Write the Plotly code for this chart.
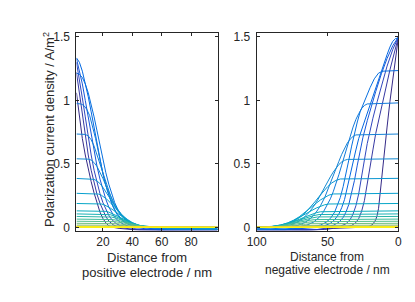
import plotly.graph_objects as go

# ---------------- data ----------------
# Left panel: distance from positive electrode (nm) -> current density (A/m^2)
left_x = [
    [2,3,4,5,6,8,10,12,14,16,18,20,22,24,27,31,36,42,60,98],
    [2,4,6,8,10,12,14,16,18,20,22,24,27,30,34,39,45,60,98],
    [2,4,6,8,10,12,14,16,18,20,22,24,26,29,32,36,41,47,60,98],
    [2,4,6,8,10,12,14,16,18,20,22,24,26,28,31,35,39,44,50,58,98],
    [2,4,6,8,10,12,14,16,18,20,22,24,26,28,30,33,36,40,45,50,56,64,98],
    [2,4,6,8,10,12,14,16,18,20,22,24,26,28,30,33,36,40,45,50,56,64,98],
    [2,5,7,9,11,13,15,17,19,21,23,25,27,29,32,35,39,44,50,56,64,98],
    [2,8,10,12,14,16,18,20,22,24,26,28,30,33,36,40,45,50,56,64,98],
    [2,10,12,14,16,18,20,22,24,26,28,30,33,36,40,45,50,56,64,98],
    [2,12,14,16,18,20,22,24,26,28,30,33,36,40,45,50,58,70,98],
    [2,15,17,19,21,23,25,27,29,31,34,37,40,44,48,54,98],
    [2,17,19,21,23,25,27,29,31,34,37,40,44,48,54,98],
    [2,20,22,24,26,28,30,32,35,38,41,45,50,56,98],
    [2,22,25,28,31,34,37,41,45,50,58,98],
    [2,23,26,29,32,35,38,42,46,51,58,98],
    [2,24,27,30,33,36,40,44,49,55,98],
    [2,25,28,31,34,37,41,45,50,56,98],
    [2,26,30,34,38,42,47,53,98],
    [2,27,32,37,42,48,55,98],
    [2,28,34,40,46,54,98],
    [2,32,42,52,98],
    [2,32,42,52,98],
    [2,32,42,52,98],
    [2,32,42,52,98],
    [2,32,42,52,98],
    [2,32,42,52,98],
    [2,32,42,52,98],
    [2,32,42,52,98],
    [2,32,42,52,98],
    [2,32,42,52,98],
]
left_y = [
    [1.06,0.97,0.87,0.78,0.70,0.57,0.46,0.36,0.27,0.19,0.12,0.07,0.035,0.012,0.0,-0.008,-0.015,-0.019,-0.02,-0.019],
    [1.22,1.05,0.87,0.71,0.57,0.45,0.35,0.26,0.19,0.13,0.085,0.05,0.02,0.004,-0.006,-0.014,-0.019,-0.02,-0.019],
    [1.30,1.17,1.02,0.87,0.71,0.57,0.45,0.35,0.265,0.195,0.14,0.095,0.062,0.03,0.012,0.0,-0.01,-0.017,-0.019,-0.018],
    [1.33,1.24,1.13,1.0,0.87,0.73,0.60,0.48,0.38,0.29,0.22,0.16,0.115,0.08,0.045,0.018,0.005,-0.004,-0.013,-0.018,-0.018],
    [1.335,1.30,1.23,1.14,1.03,0.91,0.78,0.65,0.53,0.42,0.33,0.25,0.185,0.135,0.095,0.055,0.03,0.012,0.002,-0.006,-0.013,-0.017,-0.017],
    [1.215,1.205,1.18,1.13,1.06,0.97,0.87,0.76,0.645,0.535,0.43,0.34,0.26,0.195,0.145,0.09,0.053,0.025,0.008,0.0,-0.008,-0.014,-0.016],
    [0.975,0.972,0.96,0.93,0.88,0.80,0.70,0.59,0.48,0.375,0.29,0.22,0.165,0.12,0.075,0.045,0.02,0.006,0.0,-0.008,-0.013,-0.015],
    [0.735,0.732,0.72,0.69,0.64,0.57,0.495,0.42,0.35,0.28,0.22,0.17,0.13,0.085,0.052,0.025,0.008,0.0,-0.007,-0.012,-0.014],
    [0.54,0.537,0.53,0.51,0.48,0.435,0.385,0.33,0.275,0.225,0.18,0.14,0.095,0.06,0.03,0.011,0.002,-0.005,-0.01,-0.013],
    [0.385,0.383,0.378,0.365,0.345,0.315,0.28,0.245,0.205,0.17,0.135,0.095,0.062,0.033,0.013,0.003,-0.004,-0.009,-0.011],
    [0.268,0.266,0.262,0.253,0.238,0.218,0.195,0.17,0.145,0.12,0.088,0.06,0.038,0.018,0.007,0.0,-0.005],
    [0.188,0.187,0.184,0.177,0.166,0.152,0.136,0.118,0.1,0.075,0.053,0.035,0.018,0.008,0.001,0.0],
    [0.13,0.129,0.126,0.12,0.111,0.1,0.088,0.076,0.058,0.042,0.028,0.015,0.006,0.001,0.0],
    [0.106,0.105,0.1,0.088,0.072,0.055,0.04,0.024,0.012,0.004,0.0,0.0],
    [0.086,0.085,0.081,0.072,0.06,0.047,0.035,0.021,0.011,0.004,0.0,0.0],
    [0.065,0.064,0.061,0.055,0.046,0.036,0.024,0.014,0.006,0.001,0.0],
    [0.048,0.047,0.045,0.04,0.034,0.026,0.017,0.01,0.004,0.0,0.0],
    [0.032,0.031,0.029,0.023,0.016,0.01,0.004,0.0,0.0],
    [0.018,0.018,0.016,0.011,0.006,0.002,0.0,0.0],
    [0.010,0.010,0.008,0.005,0.002,0.0,0.0],
    [0.007,0.007,0.0035,0.0,0.0],
    [0.006,0.006,0.003,0.0,0.0],
    [0.005,0.005,0.0025,0.0,0.0],
    [0.005,0.005,0.0025,0.0,0.0],
    [0.004,0.004,0.002,0.0,0.0],
    [0.004,0.004,0.002,0.0,0.0],
    [0.003,0.003,0.0015,0.0,0.0],
    [0.003,0.003,0.0015,0.0,0.0],
    [0.002,0.002,0.001,0.0,0.0],
    [0.002,0.002,0.001,0.0,0.0],
]

# Right panel: distance from negative electrode (nm) -> current density (A/m^2)
right_x = [
    [0,2,4,6,8,9,10,11,12,13,14,15,16,18,20,23,28,40,46,52,60,100],
    [0,3,6,9,12,14,16,18,20,22,24,26,28,30,33,37,42,48,54,62,100],
    [0,4,8,12,15,18,20,22,24,26,28,30,32,34,37,41,46,51,57,65,100],
    [0,4,8,12,16,19,22,25,27,29,31,33,35,37,39,42,46,51,56,62,70,80,100],
    [0,2,4,6,8,10,12,14,16,18,20,22,24,26,28,30,32,34,36,38,40,42,45,48,52,57,63,70,78,88,100],
    [0,8,11,14,17,20,23,25,27,29,31,33,35,37,39,41,43,45,48,51,55,60,66,72,80,90,100],
    [0,20,22,24,26,28,30,32,34,36,38,40,42,44,46,48,50,53,56,60,65,70,76,82,90,100],
    [0,28,30,32,34,36,38,40,42,44,46,48,50,52,55,58,62,66,71,77,83,90,100],
    [0,34,36,38,40,42,44,46,48,50,52,54,57,60,63,67,71,76,82,88,100],
    [0,38,41,44,47,50,53,56,59,62,65,68,72,76,81,87,94,100],
    [0,43,46,49,52,55,58,61,64,67,70,74,78,83,89,96,100],
    [0,46,49,52,55,58,61,64,67,70,74,78,83,89,96,100],
    [0,49,52,55,58,61,64,67,70,74,78,83,89,96,100],
    [0,52,56,60,64,68,72,76,81,87,94,100],
    [0,53,57,61,65,69,73,77,82,88,95,100],
    [0,55,59,63,67,71,75,80,86,93,100],
    [0,56,60,64,68,72,77,83,90,100],
    [0,57,62,67,72,78,85,93,100],
    [0,58,65,72,80,88,100],
    [0,60,70,80,90,100],
    [0,60,72,85,100],
    [0,60,72,85,100],
    [0,60,72,85,100],
    [0,60,72,85,100],
    [0,60,72,85,100],
    [0,60,72,85,100],
    [0,60,72,85,100],
    [0,60,72,85,100],
    [0,60,72,85,100],
    [0,60,72,85,100],
]
right_y = [
    [1.5,1.34,1.17,0.99,0.79,0.68,0.56,0.44,0.33,0.23,0.15,0.095,0.06,0.025,0.01,0.002,0.0,0.0,-0.008,-0.016,-0.02,-0.019],
    [1.5,1.38,1.24,1.09,0.94,0.84,0.74,0.61,0.47,0.33,0.21,0.125,0.07,0.038,0.015,0.004,0.0,-0.008,-0.016,-0.019,-0.019],
    [1.5,1.4,1.27,1.12,0.99,0.86,0.77,0.66,0.53,0.39,0.265,0.17,0.105,0.062,0.028,0.009,0.0,-0.008,-0.016,-0.019,-0.018],
    [1.5,1.43,1.33,1.21,1.07,0.96,0.84,0.71,0.61,0.49,0.37,0.265,0.18,0.12,0.078,0.04,0.016,0.004,0.0,-0.008,-0.015,-0.018,-0.018],
    [1.49,1.487,1.465,1.42,1.36,1.295,1.23,1.165,1.1,1.03,0.96,0.89,0.83,0.77,0.70,0.61,0.51,0.405,0.305,0.22,0.155,0.105,0.06,0.032,0.013,0.004,0.0,-0.007,-0.014,-0.017,-0.017],
    [1.235,1.234,1.23,1.215,1.17,1.1,1.02,0.97,0.91,0.83,0.74,0.64,0.53,0.42,0.32,0.235,0.17,0.12,0.07,0.04,0.018,0.006,0.0,-0.006,-0.013,-0.016,-0.016],
    [0.98,0.978,0.972,0.96,0.935,0.895,0.85,0.79,0.72,0.645,0.57,0.49,0.415,0.345,0.28,0.225,0.178,0.12,0.078,0.04,0.016,0.005,0.0,-0.006,-0.012,-0.015],
    [0.735,0.733,0.728,0.716,0.695,0.665,0.625,0.575,0.52,0.46,0.4,0.34,0.285,0.235,0.17,0.12,0.07,0.038,0.015,0.004,0.0,-0.006,-0.011],
    [0.54,0.538,0.535,0.528,0.515,0.495,0.468,0.435,0.398,0.357,0.315,0.273,0.214,0.162,0.118,0.074,0.043,0.02,0.007,0.001,-0.005],
    [0.386,0.385,0.381,0.37,0.35,0.32,0.283,0.242,0.2,0.16,0.123,0.092,0.06,0.036,0.017,0.006,0.001,0.0],
    [0.268,0.267,0.263,0.254,0.238,0.216,0.19,0.162,0.134,0.107,0.083,0.056,0.035,0.018,0.007,0.002,0.001],
    [0.188,0.187,0.184,0.178,0.167,0.152,0.134,0.114,0.094,0.075,0.053,0.035,0.019,0.008,0.002,0.001],
    [0.13,0.129,0.127,0.123,0.115,0.104,0.091,0.077,0.063,0.045,0.03,0.017,0.007,0.002,0.001],
    [0.106,0.105,0.101,0.092,0.078,0.062,0.046,0.032,0.019,0.008,0.002,0.001],
    [0.086,0.085,0.082,0.074,0.063,0.05,0.037,0.026,0.015,0.006,0.001,0.0],
    [0.065,0.064,0.061,0.055,0.046,0.036,0.026,0.016,0.007,0.002,0.0],
    [0.048,0.047,0.045,0.04,0.033,0.025,0.016,0.008,0.002,0.0],
    [0.032,0.031,0.029,0.023,0.016,0.009,0.003,0.0,0.0],
    [0.018,0.018,0.015,0.009,0.004,0.001,0.0],
    [0.010,0.010,0.007,0.003,0.0,0.0],
    [0.007,0.007,0.0035,0.0,0.0],
    [0.006,0.006,0.003,0.0,0.0],
    [0.005,0.005,0.0025,0.0,0.0],
    [0.005,0.005,0.0025,0.0,0.0],
    [0.004,0.004,0.002,0.0,0.0],
    [0.004,0.004,0.002,0.0,0.0],
    [0.003,0.003,0.0015,0.0,0.0],
    [0.003,0.003,0.0015,0.0,0.0],
    [0.002,0.002,0.001,0.0,0.0],
    [0.002,0.002,0.001,0.0,0.0],
]

left_ticks = [20, 40, 60, 80]
right_ticks = [0, 50, 100]
y_ticks = [0, 0.5, 1, 1.5]
y_tick_text = ["0", "0.5", "1", "1.5"]

# ---------------- style ----------------
PARULA = [
    (0.2081,0.1663,0.5292),(0.2116,0.1898,0.5777),(0.2123,0.2138,0.6270),(0.2081,0.2386,0.6771),
    (0.1959,0.2645,0.7279),(0.1707,0.2919,0.7792),(0.1253,0.3242,0.8303),(0.0591,0.3598,0.8683),
    (0.0117,0.3875,0.8820),(0.0060,0.4086,0.8828),(0.0165,0.4266,0.8786),(0.0329,0.4430,0.8720),
    (0.0498,0.4586,0.8641),(0.0629,0.4737,0.8554),(0.0723,0.4887,0.8467),(0.0779,0.5040,0.8384),
    (0.0793,0.5200,0.8312),(0.0749,0.5375,0.8263),(0.0641,0.5570,0.8240),(0.0488,0.5772,0.8228),
    (0.0343,0.5966,0.8199),(0.0265,0.6137,0.8135),(0.0239,0.6287,0.8038),(0.0231,0.6418,0.7913),
    (0.0228,0.6535,0.7768),(0.0267,0.6642,0.7607),(0.0384,0.6743,0.7436),(0.0590,0.6838,0.7254),
    (0.0843,0.6928,0.7062),(0.1133,0.7015,0.6859),(0.1453,0.7098,0.6646),(0.1801,0.7177,0.6424),
    (0.2178,0.7250,0.6193),(0.2586,0.7317,0.5954),(0.3022,0.7376,0.5712),(0.3482,0.7424,0.5473),
    (0.3953,0.7459,0.5244),(0.4420,0.7481,0.5033),(0.4871,0.7491,0.4840),(0.5300,0.7491,0.4661),
    (0.5709,0.7485,0.4494),(0.6099,0.7473,0.4337),(0.6473,0.7456,0.4188),(0.6834,0.7435,0.4044),
    (0.7184,0.7411,0.3905),(0.7525,0.7384,0.3768),(0.7858,0.7356,0.3633),(0.8185,0.7327,0.3498),
    (0.8507,0.7299,0.3360),(0.8824,0.7274,0.3217),(0.9139,0.7258,0.3063),(0.9450,0.7261,0.2886),
    (0.9739,0.7314,0.2666),(0.9938,0.7455,0.2403),(0.9990,0.7653,0.2164),(0.9955,0.7861,0.1967),
    (0.9880,0.8066,0.1794),(0.9789,0.8271,0.1633),(0.9697,0.8481,0.1475),(0.9626,0.8705,0.1309),
    (0.9589,0.8949,0.1132),(0.9598,0.9218,0.0948),(0.9661,0.9514,0.0755),(0.9763,0.9831,0.0538),
]

def parula(n):
    out = []
    for k in range(n):
        p = k / (n - 1) * 63
        a = int(p)
        b = min(a + 1, 63)
        f = p - a
        c = [PARULA[a][j] * (1 - f) + PARULA[b][j] * f for j in range(3)]
        out.append("rgb(%d,%d,%d)" % tuple(round(v * 255) for v in c))
    return out

colors = parula(len(left_x))
INK = "#262626"
FONT = "Liberation Sans, Arial, Helvetica, sans-serif"
W, H = 415, 302
OFF = 8  # the page body adds an 8 px margin; place everything in window pixels


def px(x):
    return (x - OFF) / W


def py(y):
    return 1 - (y - OFF) / H


fig = go.Figure()
for i in range(len(left_x)):
    fig.add_trace(go.Scatter(x=left_x[i], y=left_y[i], mode="lines",
                             line=dict(color=colors[i], width=1),
                             xaxis="x", yaxis="y", showlegend=False, hoverinfo="skip"))
for i in range(len(right_x)):
    fig.add_trace(go.Scatter(x=right_x[i], y=right_y[i], mode="lines",
                             line=dict(color=colors[i], width=1),
                             xaxis="x2", yaxis="y2", showlegend=False, hoverinfo="skip"))

base_style = dict(showline=True, linecolor=INK, linewidth=1, mirror="ticks",
                  ticks="inside", ticklen=3, tickwidth=1, tickcolor=INK,
                  showgrid=False, zeroline=False,
                  tickfont=dict(family=FONT, size=12, color=INK))
x_style = dict(base_style, ticklabelstandoff=0)
y_style = dict(base_style, ticklabelstandoff=3)

ydom = [py(233), py(31)]
fig.update_layout(
    width=W, height=H, margin=dict(l=0, r=0, t=0, b=0),
    paper_bgcolor="white", plot_bgcolor="white",
    xaxis=dict(domain=[px(68.5), px(214.5)], range=[2, 98], tickvals=left_ticks,
               anchor="y", **x_style),
    yaxis=dict(domain=ydom, range=[-0.027, 1.527], tickvals=y_ticks, ticktext=y_tick_text,
               anchor="x", **y_style),
    xaxis2=dict(domain=[px(255), px(401.7)], range=[100, 0], tickvals=right_ticks,
                anchor="y2", **x_style),
    yaxis2=dict(domain=ydom, range=[-0.027, 1.527], tickvals=y_ticks, ticktext=y_tick_text,
                anchor="x2", **y_style),
    annotations=[
        dict(text="Distance from", x=px(141.5), y=py(260.5), xref="paper", yref="paper",
             showarrow=False, xanchor="center", yanchor="middle",
             font=dict(family=FONT, size=13, color=INK)),
        dict(text="positive electrode / nm", x=px(141.5), y=py(275.5), xref="paper", yref="paper",
             showarrow=False, xanchor="center", yanchor="middle",
             font=dict(family=FONT, size=13, color=INK)),
        dict(text="Distance from", x=px(328.3), y=py(259.5), xref="paper", yref="paper",
             showarrow=False, xanchor="center", yanchor="middle",
             font=dict(family=FONT, size=12, color=INK)),
        dict(text="negative electrode / nm", x=px(328.3), y=py(273), xref="paper", yref="paper",
             showarrow=False, xanchor="center", yanchor="middle",
             font=dict(family=FONT, size=12, color=INK)),
        dict(text="Polarization current density / A/m<sup>2</sup>", x=px(40), y=py(129),
             xref="paper", yref="paper", showarrow=False, textangle=-90,
             xanchor="center", yanchor="middle",
             font=dict(family=FONT, size=13, color=INK)),
    ],
)

fig.write_html("out.html")
